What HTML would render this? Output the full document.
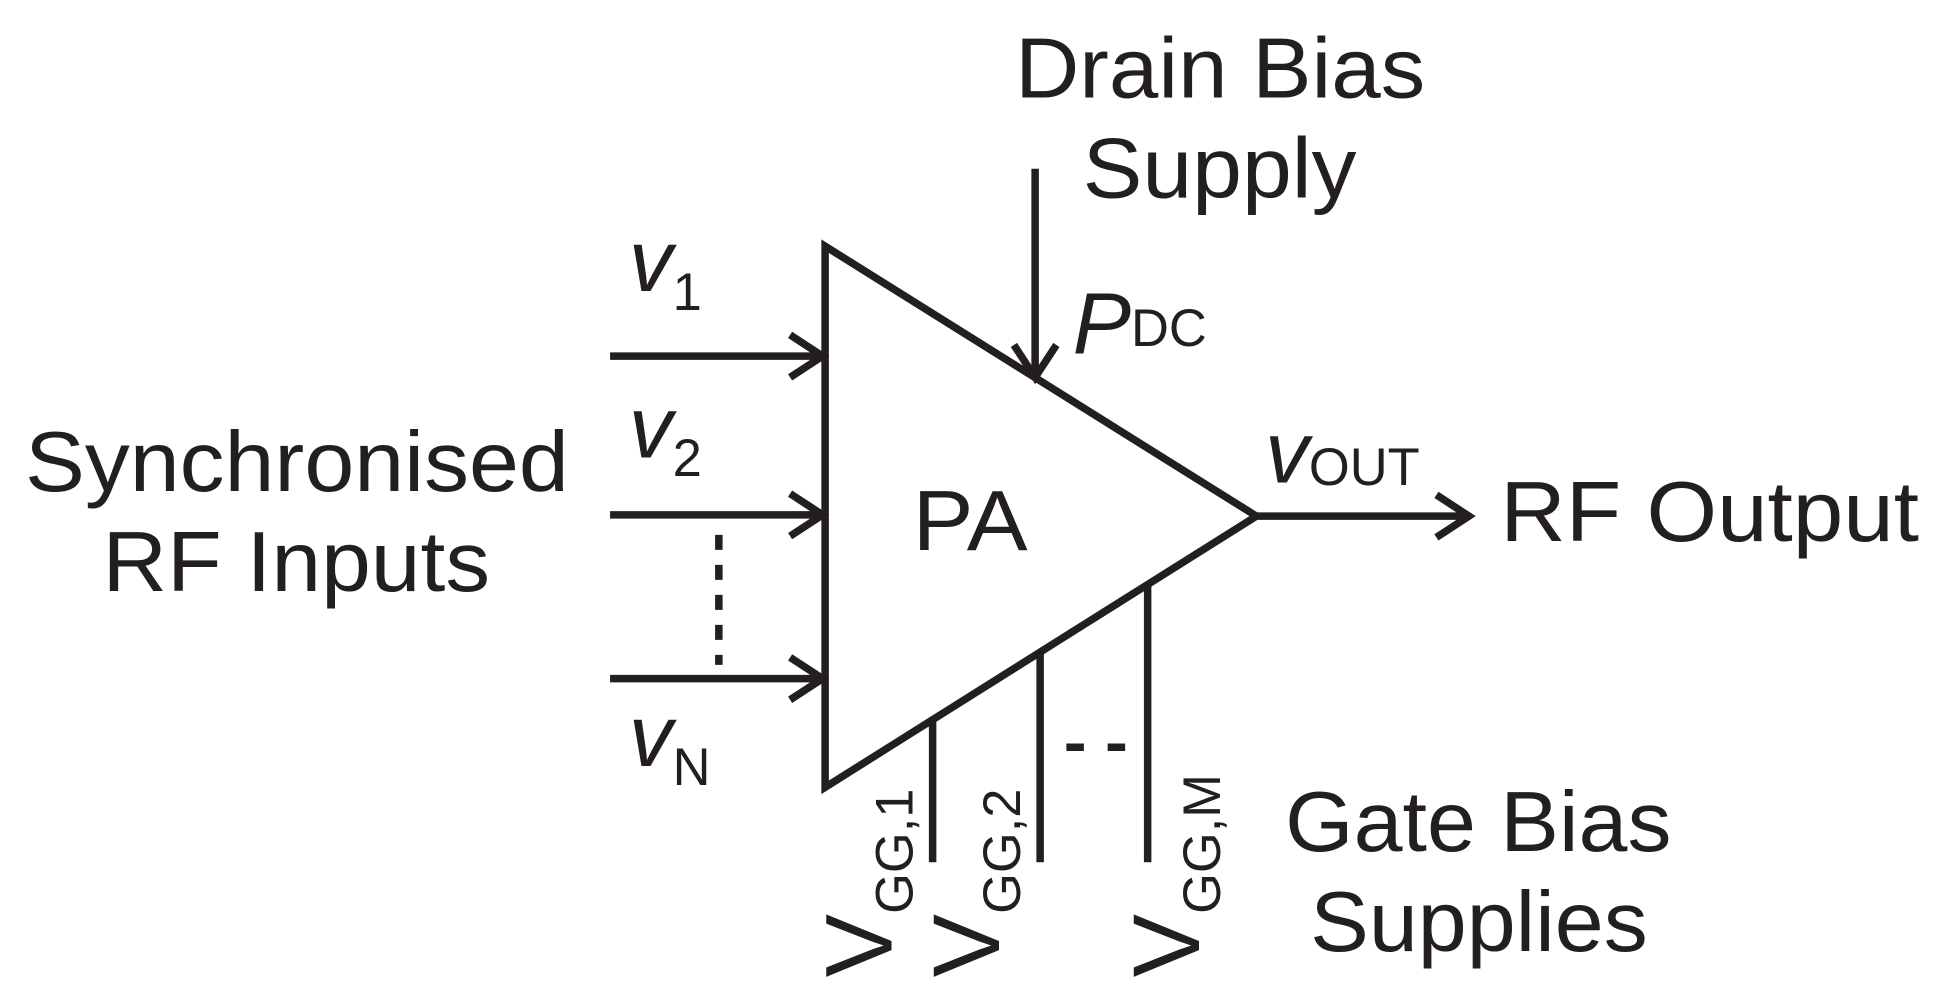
<!DOCTYPE html>
<html><head><style>html,body{margin:0;padding:0;background:#fff}svg{display:block}</style></head>
<body>
<svg width="1944" height="986" viewBox="0 0 1555 789" preserveAspectRatio="none" xmlns="http://www.w3.org/2000/svg" font-family="Liberation Sans, Arial, sans-serif" fill="#231f20">
<g stroke="#231f20" stroke-width="6" fill="none">
<polygon points="660,197 1005,413 660,630" stroke-linejoin="miter"/>
<line x1="488" y1="285" x2="658" y2="285"/><polyline points="632,268 658,285 632,302"/>
<line x1="488" y1="412" x2="658" y2="412"/><polyline points="632,395 658,412 632,429"/>
<line x1="488" y1="543" x2="658" y2="543"/><polyline points="632,526 658,543 632,560"/>
<line x1="575" y1="428" x2="575" y2="532" stroke-dasharray="12,12"/>
<line x1="828" y1="135" x2="828" y2="302"/><polyline points="811,276 828,302 845,276"/>
<line x1="1005" y1="413" x2="1175" y2="413"/><polyline points="1149,396 1175,413 1149,430"/>
<line x1="746" y1="574" x2="746" y2="690"/>
<line x1="832" y1="521" x2="832" y2="690"/>
<line x1="918" y1="467" x2="918" y2="690"/>
<line x1="853" y1="598" x2="900" y2="598" stroke-dasharray="14,19"/>
</g>
<g font-size="68">
<text x="812" y="78" textLength="328" lengthAdjust="spacingAndGlyphs">Drain Bias</text>
<text x="866" y="158" textLength="219" lengthAdjust="spacingAndGlyphs">Supply</text>
<text x="20" y="393" textLength="435" lengthAdjust="spacingAndGlyphs">Synchronised</text>
<text x="82" y="473" textLength="310" lengthAdjust="spacingAndGlyphs">RF Inputs</text>
<text x="730" y="440" textLength="92" lengthAdjust="spacingAndGlyphs">PA</text>
<text x="1200" y="433" textLength="335" lengthAdjust="spacingAndGlyphs">RF Output</text>
<text x="1028" y="681" textLength="309" lengthAdjust="spacingAndGlyphs">Gate Bias</text>
<text x="1048" y="761" textLength="270" lengthAdjust="spacingAndGlyphs">Supplies</text>
</g>
<g font-size="70" font-style="italic">
<text x="503" y="233">v<tspan font-style="normal" font-size="42" dy="15">1</tspan></text>
<text x="503" y="366">v<tspan font-style="normal" font-size="42" dy="15">2</tspan></text>
<text x="503" y="613">v<tspan font-style="normal" font-size="42" dy="15">N</tspan></text>
<text x="858" y="283">P<tspan font-style="normal" font-size="42" dy="-6">DC</tspan></text>
<text x="1012" y="386">v<tspan font-style="normal" font-size="42" dy="2">OUT</tspan></text>
</g>
<g font-size="76">
<text transform="translate(713,782) rotate(-90)">V<tspan font-size="42" dy="17">GG,1</tspan></text>
<text transform="translate(799,782) rotate(-90)">V<tspan font-size="42" dy="17">GG,2</tspan></text>
<text transform="translate(959,782) rotate(-90)">V<tspan font-size="42" dy="17">GG,M</tspan></text>
</g>
</svg>
</body></html>
